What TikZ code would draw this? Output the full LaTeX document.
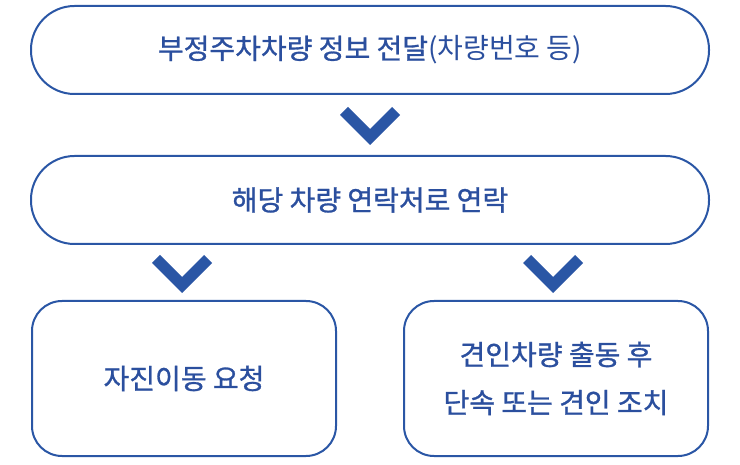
\documentclass[tikz,border=0pt]{standalone}
\usepackage{fontspec}
\newfontfamily\kr{Noto Sans CJK KR}
\newfontfamily\krm[FakeBold=1.0]{Noto Sans CJK KR}
\definecolor{mainblue}{HTML}{2A56A5}
\definecolor{textblue}{HTML}{2B4F9E}
\tikzset{
  pill/.style={draw=mainblue, line width=2pt, rounded corners=43.5pt, minimum width=678pt, minimum height=88pt, inner sep=0pt, text=textblue, font=\fontsize{28}{32}\selectfont\krm},
  card/.style={draw=mainblue, line width=2pt, rounded corners=30pt, minimum width=304pt, minimum height=155pt, inner sep=0pt, align=center, text=textblue, font=\fontsize{28}{48}\selectfont\krm},
  chev/.style={fill=mainblue, draw=none}
}
\begin{document}
\begin{tikzpicture}[x=1pt,y=-1pt]
\useasboundingbox (0,0) rectangle (740,465);
\node[pill] (b1) at (370,50) {부정주차차량 정보 전달{\kr (차량번호 등)}};
\node[pill] (b2) at (370,200) {해당 차량 연락처로 연락};
\node[card] (b3) at (184,378.5) {자진이동 요청};
\node[card] (b4) at (556,378.5) {견인차량 출동 후\\단속 또는 견인 조치};
\fill[chev] (340,115) -- (348,107) -- (370,129) -- (392,107) -- (400,115) -- (370,145) -- cycle;
\fill[chev] (152,263) -- (160,255) -- (182,277) -- (204,255) -- (212,263) -- (182,293) -- cycle;
\fill[chev] (523,263) -- (531,255) -- (553,277) -- (575,255) -- (583,263) -- (553,293) -- cycle;
\end{tikzpicture}
\end{document}
